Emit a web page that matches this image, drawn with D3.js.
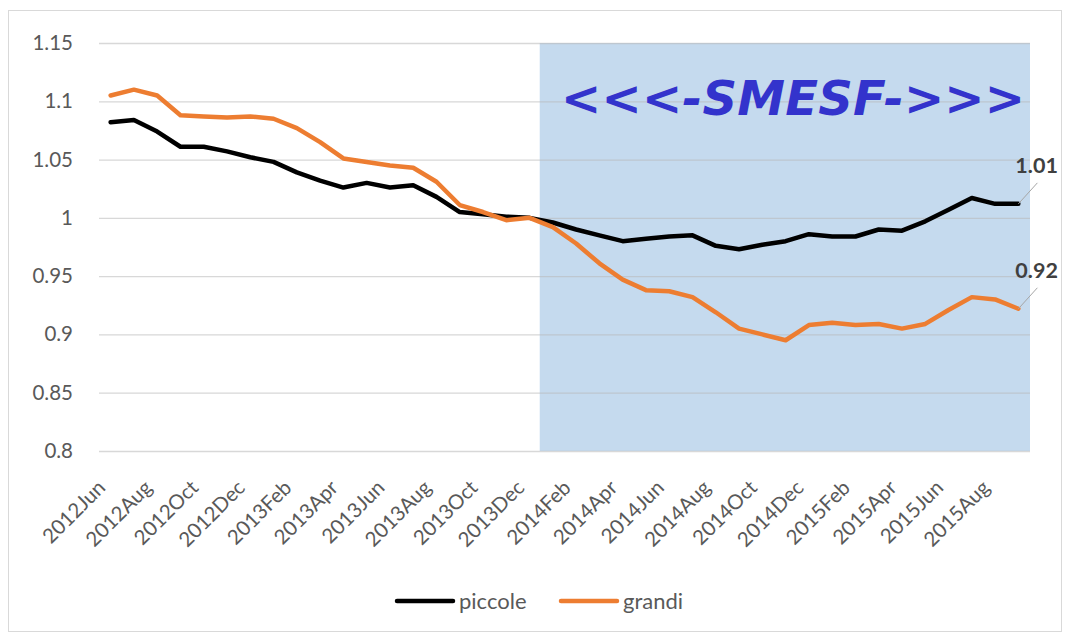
<!DOCTYPE html>
<html><head><meta charset="utf-8">
<script src="https://cdn.jsdelivr.net/npm/d3@7"></script>
<style>body{margin:0;background:#fff;} svg{display:block;}</style>
</head><body>
<svg id="c" width="1068" height="639"></svg>
<script>
const months = ["2012Jun","2012Jul","2012Aug","2012Sep","2012Oct","2012Nov","2012Dec",
"2013Jan","2013Feb","2013Mar","2013Apr","2013May","2013Jun","2013Jul","2013Aug","2013Sep","2013Oct","2013Nov","2013Dec",
"2014Jan","2014Feb","2014Mar","2014Apr","2014May","2014Jun","2014Jul","2014Aug","2014Sep","2014Oct","2014Nov","2014Dec",
"2015Jan","2015Feb","2015Mar","2015Apr","2015May","2015Jun","2015Jul","2015Aug","2015Sep"];
const piccole = [1.082,1.084,1.074,1.061,1.061,1.057,1.052,1.048,1.039,1.032,1.026,1.030,1.026,1.028,1.018,1.005,1.003,1.001,1.000,
0.996,0.990,0.985,0.980,0.982,0.984,0.985,0.976,0.973,0.977,0.980,0.986,0.984,0.984,0.990,0.989,0.997,1.007,1.017,1.012,1.012];
const grandi = [1.105,1.110,1.105,1.088,1.087,1.086,1.087,1.085,1.077,1.065,1.051,1.048,1.045,1.043,1.031,1.011,1.005,0.998,1.000,
0.992,0.978,0.961,0.947,0.938,0.937,0.932,0.919,0.905,0.900,0.895,0.908,0.910,0.908,0.909,0.905,0.909,0.921,0.932,0.930,0.922];
const yTicks = [0.8,0.85,0.9,0.95,1,1.05,1.1,1.15];
const shadeRange = ["2014Jan","2015Sep"];
const bannerText = "<<<-SMESF->>>";
const seriesNames = ["piccole","grandi"];
const seriesColors = ["#000000","#ed7d31"];
const endLabels = ["1.01","0.92"];

const svg = d3.select("#c");
const FONT = "Lato, 'Open Sans', sans-serif";
// outer frame
svg.append("rect").attr("x",8.5).attr("y",10.5).attr("width",1053).attr("height",621)
  .attr("fill","#fff").attr("stroke","#d9d9d9").attr("stroke-width",1);

const x = d3.scaleBand().domain(months).range([99,1030]).padding(0);
const y = d3.scaleLinear().domain([0.8,1.15]).range([451,43]);
const cx = m => x(m) + x.bandwidth()/2;

// shaded region
svg.append("rect")
  .attr("x", x(shadeRange[0]) - 1.5)
  .attr("y", y(1.15))
  .attr("width", x(shadeRange[1]) + x.bandwidth() - x(shadeRange[0]) + 1.5)
  .attr("height", y(0.8) - y(1.15))
  .attr("fill","#c5daee");

// gridlines + y labels
const yAxis = d3.axisLeft(y).tickValues(yTicks).tickSize(-(1030-99)).tickFormat(d => d3.format("")(d)).tickPadding(26);
const gy = svg.append("g").attr("transform","translate(99,0)").call(yAxis);
gy.select(".domain").remove();
gy.selectAll(".tick line").attr("stroke","#b8b8b8").attr("stroke-opacity",0.55).attr("stroke-width",1.3);
gy.selectAll(".tick text").attr("fill","#595959").style("font-family",FONT).style("font-size","20.5px");

// x axis labels
const xAxis = d3.axisBottom(x).tickValues(months.filter((d,i)=>i%2===0)).tickSize(0).tickPadding(0);
const gx = svg.append("g").attr("transform","translate(0,451)").call(xAxis);
gx.select(".domain").remove();
gx.selectAll(".tick text")
  .attr("fill","#595959").style("font-family",FONT).style("font-size","20.5px")
  .attr("text-anchor","end").attr("dy",null).attr("y",null)
  .attr("transform","translate(-4,38) rotate(-45)");

// banner text
svg.append("text").attr("x",561).attr("y",115)
  .attr("textLength",464).attr("lengthAdjust","spacing")
  .attr("fill","#3333cc").style("font-family","'DejaVu Sans', Verdana, sans-serif")
  .style("font-size","48px").style("font-weight","bold").style("font-style","italic")
  .text(bannerText);

// lines
const line = d3.line().x((d,i)=>cx(months[i])).y(d=>y(d));
[piccole, grandi].forEach((s,k)=>{
  svg.append("path").datum(s).attr("d",line).attr("fill","none")
    .attr("stroke",seriesColors[k]).attr("stroke-width",4.5)
    .attr("stroke-linejoin","round").attr("stroke-linecap","round");
  const last = s.length-1;
  const px = cx(months[last]), py = y(s[last]);
  svg.append("line").attr("x1",px).attr("y1",py).attr("x2",px+19).attr("y2",py-21)
    .attr("stroke","#a6a6a6").attr("stroke-width",1);
  svg.append("text").attr("x",px-3).attr("y",py-31)
    .attr("fill","#404040").style("font-family",FONT)
    .style("font-size","21.5px").style("font-weight","bold").text(endLabels[k]);
});

// legend
const legendX = [397, 561];
seriesNames.forEach((n,k)=>{
  svg.append("line").attr("x1",legendX[k]).attr("x2",legendX[k]+56).attr("y1",601).attr("y2",601)
    .attr("stroke",seriesColors[k]).attr("stroke-width",4.5).attr("stroke-linecap","round");
  svg.append("text").attr("x",legendX[k]+62).attr("y",609)
    .attr("fill","#595959").style("font-family",FONT).style("font-size","22px").text(n);
});
</script>
</body></html>
